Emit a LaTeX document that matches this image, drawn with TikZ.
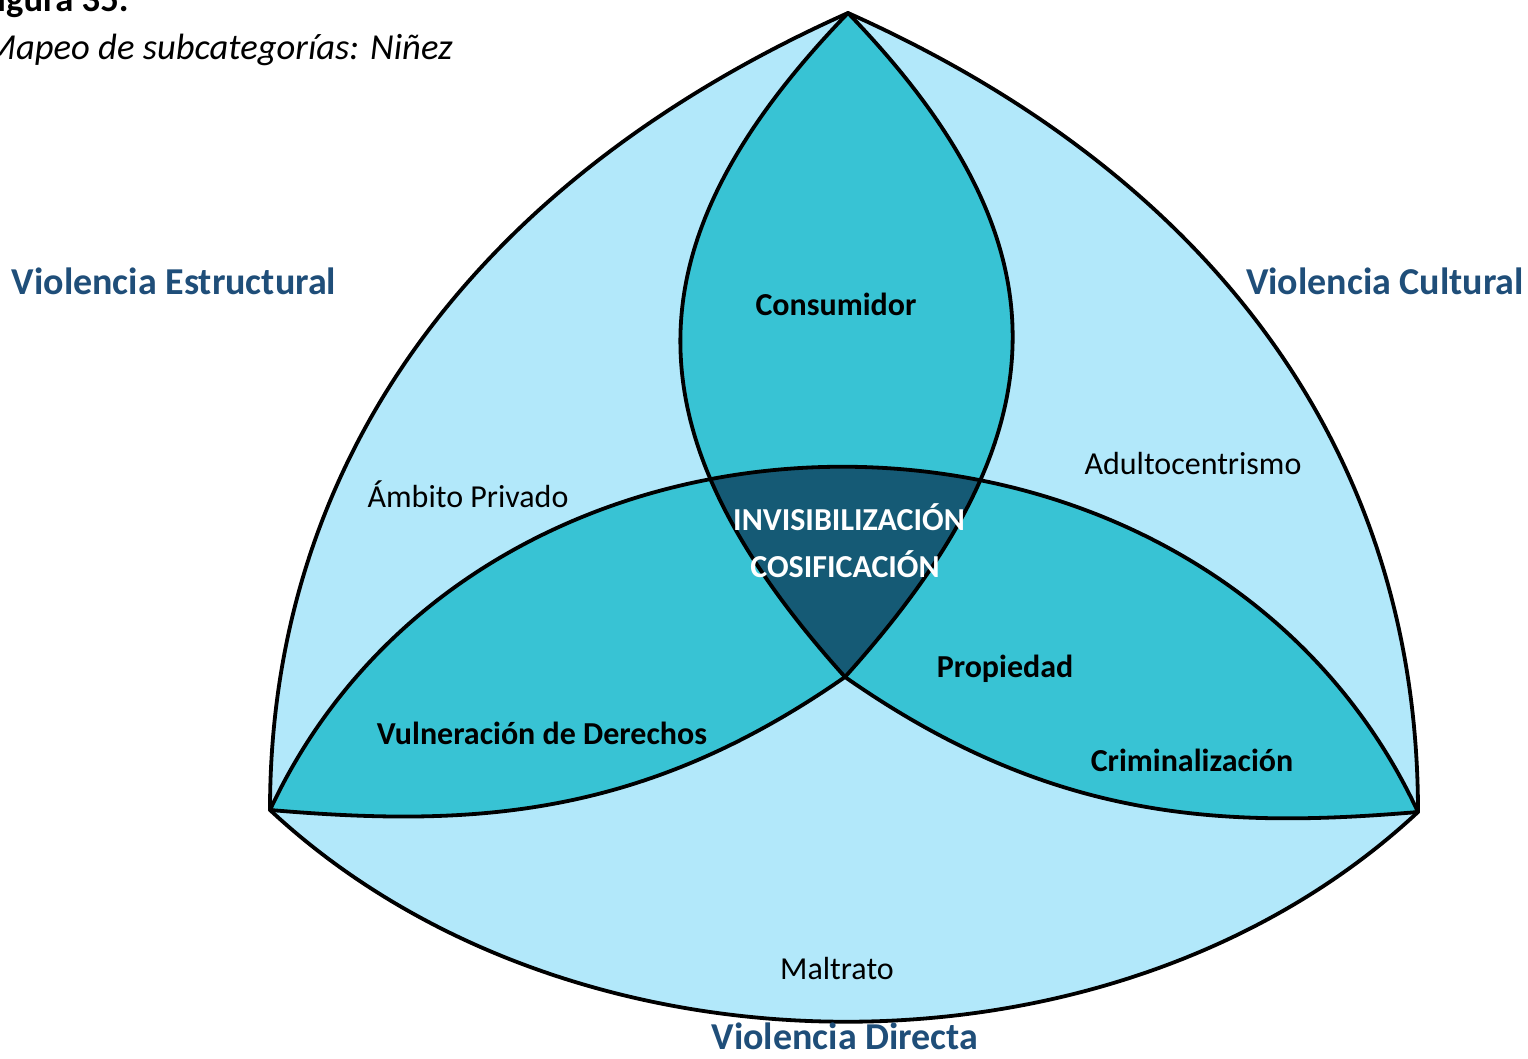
\documentclass[tikz,border=0pt]{standalone}
\usepackage{fontspec}
\setmainfont{Carlito}
\definecolor{lightfill}{HTML}{B2E8FA}
\definecolor{midfill}{HTML}{38C3D4}
\definecolor{darkfill}{HTML}{155A75}
\definecolor{titleblue}{HTML}{1F4E79}
\tikzset{
  outline/.style={draw=black, line width=1.9pt, line join=round},
  lbl/.style={inner sep=0pt, anchor=base, font=\fontsize{16}{19}\selectfont},
  blbl/.style={lbl, font=\fontsize{16}{19}\selectfont\bfseries},
  wlbl/.style={blbl, text=white},
  cat/.style={inner sep=0pt, anchor=base, text=titleblue, font=\fontsize{19}{22}\selectfont\bfseries},
  captxt/.style={inner sep=0pt, anchor=base east, font=\fontsize{18.3}{21}\selectfont}
}
\begin{document}
\begin{tikzpicture}[x=0.5pt,y=0.5pt]
\useasboundingbox (0,0) rectangle (1528,1059);
\coordinate (T) at (848,1046);
\coordinate (L) at (270,249);
\coordinate (R) at (1418,247);
\coordinate (C) at (845,382);
% outer curved triangle
\fill[lightfill] (T) .. controls (483,883) and (270,606) .. (L)
  .. controls (571,-32) and (1117,-34) .. (R)
  .. controls (1418,606) and (1213,883) .. (T) -- cycle;
% bottom shape
\fill[midfill] (L) .. controls (484,708) and (1204,706) .. (R)
  .. controls (1219,230) and (1050,238.5) .. (C)
  .. controls (640,239) and (469,232) .. (L) -- cycle;
% top lens
\fill[midfill] (T) .. controls (622,812) and (628,623) .. (C)
  .. controls (1062,623) and (1074,812) .. (T) -- cycle;
% intersection
\begin{scope}
\clip (T) .. controls (622,812) and (628,623) .. (C)
  .. controls (1062,623) and (1074,812) .. (T) -- cycle;
\fill[darkfill] (L) .. controls (484,708) and (1204,706) .. (R)
  .. controls (1219,230) and (1050,238.5) .. (C)
  .. controls (640,239) and (469,232) .. (L) -- cycle;
\end{scope}
% outlines
\draw[outline] (T) .. controls (483,883) and (270,606) .. (L)
  .. controls (571,-32) and (1117,-34) .. (R)
  .. controls (1418,606) and (1213,883) .. (T) -- cycle;
\draw[outline] (L) .. controls (484,708) and (1204,706) .. (R)
  .. controls (1219,230) and (1050,238.5) .. (C)
  .. controls (640,239) and (469,232) .. (L) -- cycle;
\draw[outline] (T) .. controls (622,812) and (628,623) .. (C)
  .. controls (1062,623) and (1074,812) .. (T) -- cycle;
% caption
\node[captxt, font=\fontsize{18.3}{21}\selectfont\bfseries] (fig) at (129,1047) {Figura 35.};
\node[captxt, font=\fontsize{18.3}{21}\selectfont\itshape] (title) at (453,999) {Mapeo de subcategorías: Niñez};
% categories
\node[cat] (estr) at (174,764) {Violencia Estructural};
\node[cat] (cult) at (1385,764) {Violencia Cultural};
\node[cat] (dir) at (845,9) {Violencia Directa};
% labels
\node[blbl] (cons) at (836,743) {Consumidor};
\node[lbl] (amb) at (468,551) {Ámbito Privado};
\node[lbl] (adul) at (1193,584) {Adultocentrismo};
\node[wlbl] (inv) at (849,528) {INVISIBILIZACIÓN};
\node[wlbl] (cos) at (845,481) {COSIFICACIÓN};
\node[blbl] (prop) at (1005,381) {Propiedad};
\node[blbl] (vuln) at (542,314) {Vulneración de Derechos};
\node[blbl] (crim) at (1192,287) {Criminalización};
\node[lbl] (malt) at (837,79) {Maltrato};
\end{tikzpicture}
\end{document}
